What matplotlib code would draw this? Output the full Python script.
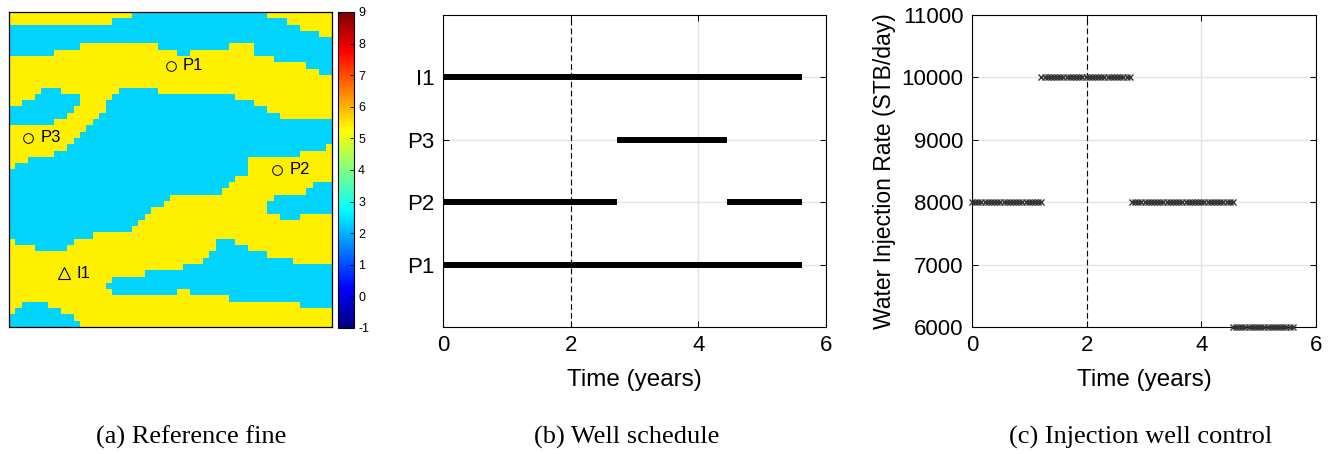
import numpy as np
import matplotlib
matplotlib.use('Agg')
import matplotlib.pyplot as plt
from matplotlib.colors import LinearSegmentedColormap

plt.rcParams['font.family'] = ['Liberation Sans', 'DejaVu Sans']
plt.rcParams['axes.unicode_minus'] = False

# facies map, 50 x 50 cells: for each column, the rows where the facies flips
# (starts with sand at row 0, then alternates shale / sand)
facies_breaks = [
    [2, 7, 15, 18, 25, 36, 48],
    [2, 7, 15, 18, 24, 37, 47],
    [2, 7, 14, 18, 24, 37, 46],
    [2, 7, 14, 18, 23, 37, 46],
    [2, 7, 13, 18, 23, 38, 46],
    [2, 7, 12, 18, 23, 38, 46],
    [2, 7, 12, 18, 23, 38, 47],
    [2, 6, 12, 17, 22, 38, 47],
    [2, 6, 13, 17, 22, 38, 48],
    [2, 6, 13, 16, 21, 37, 48],
    [2, 6, 13, 15, 20, 36, 49],
    [2, 5, 19, 36],
    [2, 5, 18, 36],
    [2, 5, 17, 35],
    [2, 5, 16, 35],
    [2, 5, 14, 35, 43, 44],
    [1, 5, 13, 35, 42, 45],
    [1, 5, 12, 35, 42, 45],
    [1, 5, 12, 35, 42, 45],
    [0, 5, 12, 34, 42, 45],
    [0, 5, 12, 33, 42, 45],
    [0, 5, 12, 32, 41, 45],
    [0, 5, 12, 31, 41, 45],
    [0, 6, 13, 31, 41, 45],
    [0, 6, 13, 30, 41, 45],
    [0, 6, 13, 29, 41, 45],
    [0, 7, 13, 29, 41, 44],
    [0, 7, 13, 29, 40, 44],
    [0, 6, 13, 29, 40, 45],
    [0, 6, 13, 29, 40, 45],
    [0, 6, 13, 29, 39, 45],
    [0, 6, 13, 29, 38, 45],
    [0, 6, 13, 29, 36, 45],
    [0, 6, 13, 28, 36, 45],
    [0, 5, 13, 27, 36, 46],
    [0, 5, 14, 26, 37, 46],
    [0, 5, 14, 26, 37, 46],
    [0, 5, 14, 23, 38, 46],
    [0, 7, 15, 23, 38, 46],
    [0, 7, 15, 23, 38, 46],
    [1, 7, 16, 23, 30, 32, 39, 46],
    [1, 8, 16, 23, 29, 32, 39, 46],
    [1, 8, 17, 23, 29, 33, 39, 46],
    [2, 8, 17, 23, 29, 33, 39, 46],
    [2, 8, 17, 23, 29, 33, 40, 46],
    [3, 8, 17, 22, 29, 32, 40, 47],
    [3, 9, 17, 22, 28, 32, 40, 47],
    [3, 9, 17, 22, 27, 32, 40, 47],
    [4, 10, 17, 22, 27, 32, 40, 47],
    [4, 10, 17, 21, 27, 32, 40, 47],
]
sand_value = 5.4
shale_value = 2.35

well_xy = {'P1': (25.0, 8.5), 'P2': (41.5, 25.0), 'P3': (3.0, 20.0)}
inj_xy = {'I1': (8.5, 41.5)}

# well schedule (years)
well_names = ['P1', 'P2', 'P3', 'I1']
well_on = [[0.0], [0.0, 4.45], [2.73], [0.0]]
well_off = [[5.63], [2.73, 5.63], [4.45], [5.63]]

# injection control
ctrl_start = [0.0, 1.21, 2.79, 4.55]
ctrl_end = [1.21, 2.79, 4.55, 5.64]
ctrl_rate = [8000, 10000, 8000, 6000]
report_step = 0.055  # spacing of report steps seen in the plot (years)

nrow = 50
grid = np.zeros((nrow, len(facies_breaks)))
for c, br in enumerate(facies_breaks):
    edges = [0] + br + [nrow]
    for k in range(len(edges) - 1):
        grid[edges[k]:edges[k + 1], c] = sand_value if k % 2 == 0 else shale_value

# matlab style jet
jet = LinearSegmentedColormap.from_list('mjet', [
    (0.0, (0, 0, 0.5)), (1 / 8, (0, 0, 1)), (3 / 8, (0, 1, 1)),
    (5 / 8, (1, 1, 0)), (7 / 8, (1, 0, 0)), (1.0, (0.5, 0, 0))], N=256)

W, H = 1333, 454
fig = plt.figure(figsize=(W / 100, H / 100), dpi=100)

def box(x0, y0, x1, y1):
    return [x0 / W, 1 - y1 / H, (x1 - x0) / W, (y1 - y0) / H]

# (a) facies map
ax1 = fig.add_axes(box(9, 12, 332, 327))
im = ax1.imshow(grid, cmap=jet, vmin=-1, vmax=9, extent=[0, 50, 50, 0],
                aspect='auto', interpolation='nearest')
for name, (x, y) in well_xy.items():
    ax1.plot(x, y, 'o', mfc='none', mec='k', ms=7, mew=0.7)
    ax1.text(x + 1.9, y, name, fontsize=12, va='center', ha='left')
for name, (x, y) in inj_xy.items():
    ax1.plot(x, y, '^', mfc='none', mec='k', ms=9, mew=0.8)
    ax1.text(x + 1.9, y, name, fontsize=12, va='center', ha='left')
ax1.set_xlim(0, 50)
ax1.set_ylim(50, 0)
ax1.set_xticks([])
ax1.set_yticks([])
for s in ax1.spines.values():
    s.set_linewidth(0.9)

cax = fig.add_axes(box(338, 12, 354, 328))
cb = fig.colorbar(im, cax=cax, ticks=range(-1, 10))
cb.outline.set_linewidth(0.8)
cax.tick_params(direction='in', length=3, width=0.6, labelsize=9, pad=3)

# (b) well schedule
ax2 = fig.add_axes(box(443, 15, 826, 327))
for i, name in enumerate(well_names):
    ax2.hlines([i + 1] * len(well_on[i]), well_on[i], well_off[i],
               colors='k', lw=4.3, zorder=3)
ax2.axvline(2, color='k', ls=(0, (5, 3)), lw=0.8, zorder=2)
ax2.set_xlim(0, 6)
ax2.set_ylim(0, 5)
ax2.set_xticks([0, 2, 4, 6])
ax2.set_yticks(range(1, len(well_names) + 1))
ax2.set_yticklabels(well_names)
ax2.set_xlabel('Time (years)', fontsize=17.5, labelpad=9)

# (c) injection control
ax3 = fig.add_axes(box(972, 15, 1316, 327))
for t0, t1, q in zip(ctrl_start, ctrl_end, ctrl_rate):
    t = np.arange(t0, t1 + 1e-9, report_step)
    ax3.plot(t, [q] * len(t), 'x', color='0.2', ms=4, mew=1.0, zorder=3,
             clip_on=False)
ax3.axvline(2, color='k', ls=(0, (5, 3)), lw=0.8, zorder=2)
ax3.set_xlim(0, 6)
ax3.set_ylim(6000, 11000)
ax3.set_xticks([0, 2, 4, 6])
ax3.set_yticks(range(6000, 11001, 1000))
ax3.set_xlabel('Time (years)', fontsize=17.5, labelpad=9)
ax3.set_ylabel('Water Injection Rate (STB/day)', fontsize=16.5, labelpad=4)

for ax in (ax2, ax3):
    ax.grid(True, color='#e3e3e3', lw=1.0, zorder=0)
    ax.set_axisbelow(True)
    ax.tick_params(direction='in', length=4, width=0.7, labelsize=16,
                   top=True, right=True, pad=6)
    for s in ax.spines.values():
        s.set_linewidth(0.8)

caps = ['(a) Reference fine', '(b) Well schedule', '(c) Injection well control']
cap_x = [191, 627, 1141]
for txt, x in zip(caps, cap_x):
    fig.text(x / W, 1 - 437 / H, txt, ha='center', va='center', fontsize=19,
             family=['Liberation Serif', 'DejaVu Serif'])

fig.savefig('out.png', dpi=100)
